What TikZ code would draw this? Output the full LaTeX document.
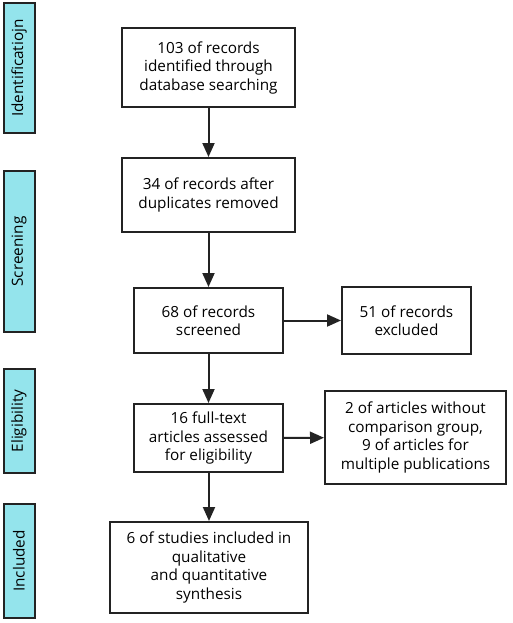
\documentclass[tikz,border=0pt]{standalone}
\usepackage{fontspec}
\setmainfont{Open Sans}
\usetikzlibrary{arrows.meta}

\definecolor{barcyan}{RGB}{148,228,236}
\definecolor{linegray}{RGB}{35,35,35}

\begin{document}
\begin{tikzpicture}[x=1pt,y=-1pt,
    box/.style={draw=linegray,line width=2pt,inner sep=0pt,align=center,
        font=\fontsize{15.3}{18.5}\selectfont},
    phase/.style={draw=linegray,fill=barcyan,line width=2pt,inner sep=0pt,
        minimum width=31pt},
    phasetext/.style={rotate=90,font=\fontsize{15.3}{18.5}\selectfont},
    link/.style={draw=linegray,line width=2pt,-{Triangle[length=14pt,width=12pt]}}]
                \useasboundingbox (0,0) rectangle (512,623);

                % phase bars on the left
                \node[phase,minimum height=130pt] (ident) at (19,68) {};
                \node[phasetext] at (ident.center) {Identificatiojn};
                \node[phase,minimum height=161pt] (screen) at (19,251.5) {};
                \node[phasetext] at (screen.center) {Screening};
                \node[phase,minimum height=104pt] (elig) at (19,421) {};
                \node[phasetext] at (elig.center) {Eligibility};
                \node[phase,minimum height=114pt] (incl) at (19,561) {};
                \node[phasetext] at (incl.center) {Included};

                % main column
                \node[box,minimum width=173pt,minimum height=79pt] (found) at (208.5,67.5)
                    {103 of records\\identified through\\database searching};
                \node[box,minimum width=173pt,minimum height=74pt] (dedup) at (208.5,195)
                    {34 of records after\\duplicates removed};
                \node[box,minimum width=149pt,minimum height=65pt] (screened) at (208.5,320.5)
                    {68 of records\\screened};
                \node[box,minimum width=149pt,minimum height=68pt] (fulltext) at (208.5,438)
                    {16 full-text\\articles assessed\\for eligibility};
                \node[box,minimum width=198pt,minimum height=91pt] (included) at (209,567.5)
                    {6 of studies included in\\qualitative\\and quantitative\\synthesis};

                % exclusions
                \node[box,minimum width=129pt,minimum height=67pt] (excl) at (406.5,320.5)
                    {51 of records\\excluded};
                \node[box,minimum width=181pt,minimum height=93pt] (removed) at (415.5,437.5)
                    {2 of articles without\\comparison group,\\9 of articles for\\multiple publications};

                \draw[link] (found) -- (dedup);
                \draw[link] (dedup) -- (screened);
                \draw[link] (screened) -- (fulltext);
                \draw[link] (fulltext.south -| included.north) -- (included);
                \draw[link] (screened) -- (excl);
                \draw[link] (fulltext) -- (removed);
            \end{tikzpicture}
\end{document}
